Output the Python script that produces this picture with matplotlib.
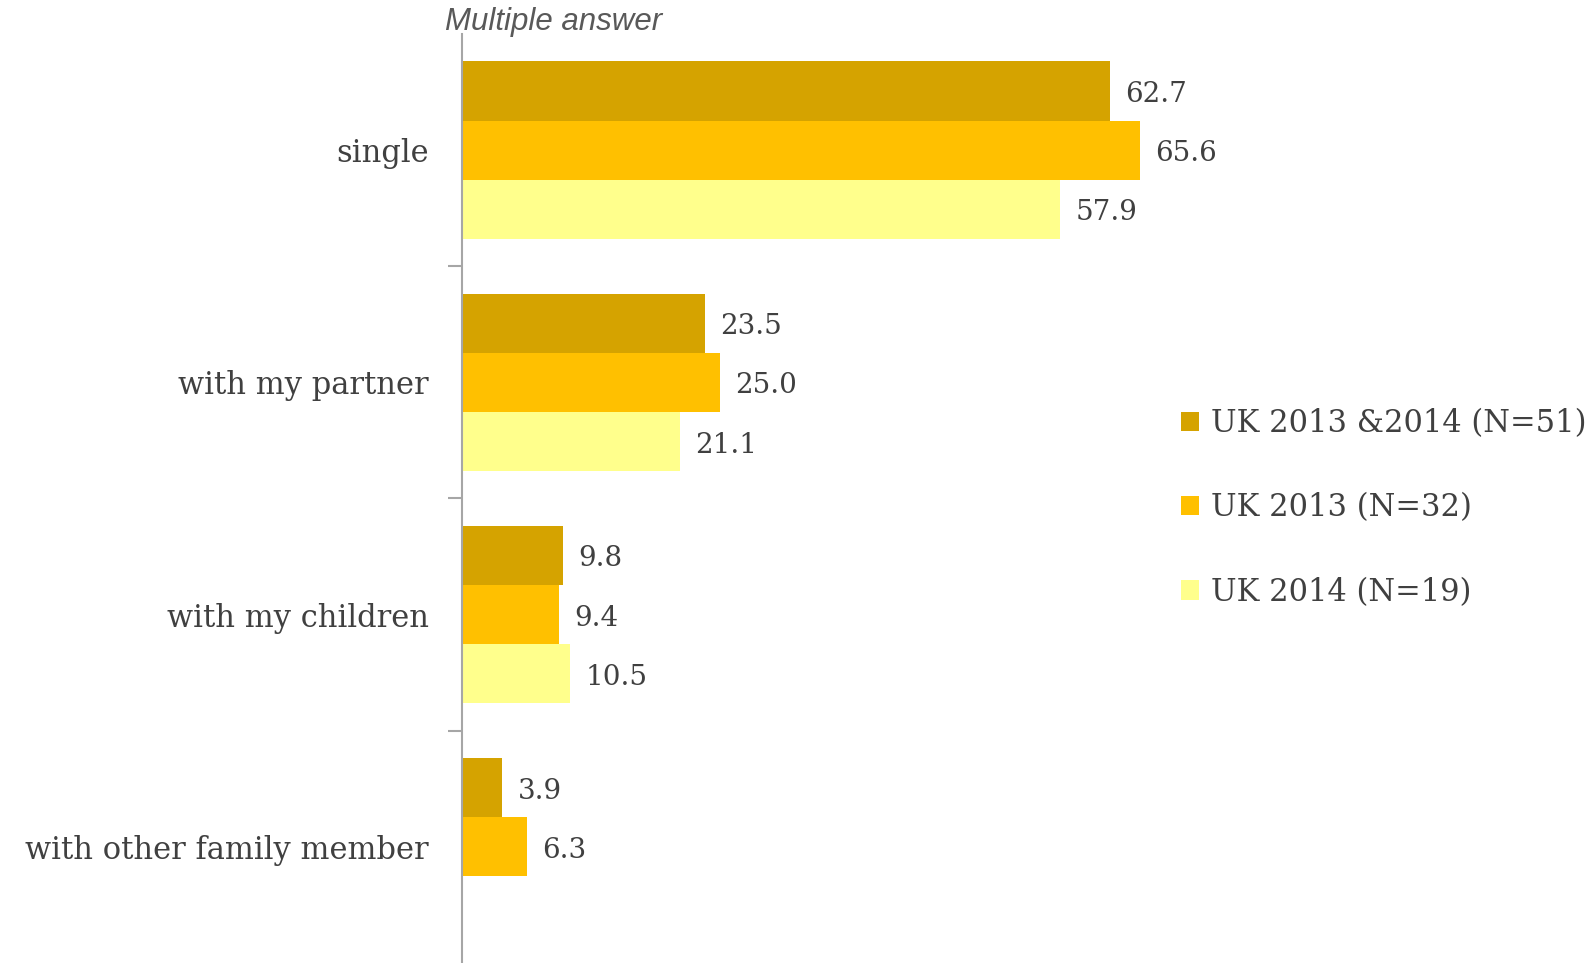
import numpy as np
import matplotlib.pyplot as plt
from matplotlib.ticker import FixedLocator

# data
categories = ['single', 'with my partner', 'with my children', 'with other family member']
uk_2013_2014 = [62.7, 23.5, 9.8, 3.9]
uk_2013 = [65.6, 25.0, 9.4, 6.3]
uk_2014 = [57.9, 21.1, 10.5, None]
series_names = ['UK 2013 &2014 (N=51)', 'UK 2013 (N=32)', 'UK 2014 (N=19)']
colors = ['#D5A300', '#FFC000', '#FFFF8C']

plt.rcParams['font.family'] = ['DejaVu Serif']
text_col = '#404040'

fig = plt.figure(figsize=(15.95, 9.63), dpi=100)
# axes placed to match the reference pixel layout
ax = fig.add_axes([462 / 1595, 0.0, 1033 / 1595, 1 - 34 / 963])

y = np.arange(len(categories))
h = 0.255
handles = []
for i, (vals, name, c) in enumerate(zip([uk_2013_2014, uk_2013, uk_2014], series_names, colors)):
    off = (i - 1) * h
    yy = [yi + off for yi, v in zip(y, vals) if v is not None]
    vv = [v for v in vals if v is not None]
    bars = ax.barh(yy, vv, height=h, color=c, label=name, edgecolor='none')
    handles.append(bars)
    for yi, v in zip(yy, vv):
        ax.annotate(f'{v:.1f}', xy=(v, yi), xytext=(11, -2.5), textcoords='offset points',
                    va='center', ha='left', fontsize=20, color=text_col)

ax.set_xlim(0, 100)
ax.set_ylim(len(categories) - 0.5, -0.5)
ax.set_yticks(y)
ax.set_yticklabels(categories, fontsize=22, color=text_col)
ax.yaxis.set_minor_locator(FixedLocator([0.5, 1.5, 2.5]))
ax.tick_params(axis='y', which='major', length=0, pad=24)
ax.tick_params(axis='y', which='minor', length=10, width=1.5, color='#A6A6A6')
ax.set_xticks([])
for s in ['top', 'right', 'bottom']:
    ax.spines[s].set_visible(False)
ax.spines['left'].set_color('#A6A6A6')
ax.spines['left'].set_linewidth(1.5)

fig.text(445 / 1595, 1 - 22 / 963, 'Multiple answer', family='Liberation Sans', style='italic',
         fontsize=22.5, color='#595959', ha='left', va='center')

fig.legend(handles=handles, labels=series_names, loc='center left',
           bbox_to_anchor=(1153 / 1595, 1 - 508 / 963), frameon=False,
           fontsize=22, labelcolor=text_col, handlelength=0.6, handleheight=0.6,
           handletextpad=0.4, labelspacing=1.75)

fig.savefig('out.png', dpi=100)
